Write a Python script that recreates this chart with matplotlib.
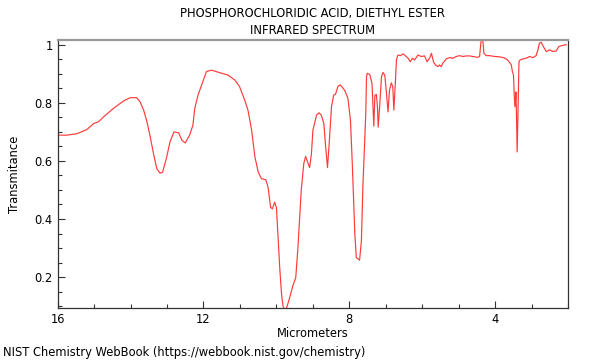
import matplotlib
matplotlib.use("Agg")
import matplotlib.pyplot as plt
from matplotlib.ticker import MultipleLocator, FuncFormatter

title_lines = ["PHOSPHOROCHLORIDIC ACID, DIETHYL ESTER", "INFRARED SPECTRUM"]
x_label = "Micrometers"
y_label = "Transmitance"
credit = "NIST Chemistry WebBook (https://webbook.nist.gov/chemistry)"

wavelength_um = [
    16.00, 15.75, 15.47, 15.20, 15.01, 14.88, 14.74, 14.47, 14.19, 14.01,
    13.83, 13.74, 13.64, 13.55, 13.46, 13.37, 13.28, 13.19, 13.12, 13.01,
    12.92, 12.81, 12.68, 12.59, 12.50, 12.38, 12.29, 12.24, 12.15, 12.05,
    11.92, 11.78, 11.55, 11.33, 11.14, 11.01, 10.87, 10.78, 10.68, 10.59,
    10.50, 10.41, 10.29, 10.23, 10.16, 10.11, 10.05, 10.00, 9.96, 9.91,
    9.86, 9.82, 9.78, 9.73, 9.65, 9.55, 9.47, 9.41, 9.32, 9.25,
    9.20, 9.13, 9.09, 9.04, 9.00, 8.90, 8.83, 8.77, 8.70, 8.65,
    8.60, 8.56, 8.49, 8.43, 8.38, 8.31, 8.25, 8.13, 8.04, 7.97,
    7.92, 7.85, 7.81, 7.72, 7.67, 7.63, 7.55, 7.53, 7.51, 7.44,
    7.38, 7.33, 7.30, 7.26, 7.23, 7.21, 7.17, 7.12, 7.08, 7.03,
    6.99, 6.94, 6.90, 6.85, 6.81, 6.78, 6.74, 6.71, 6.67, 6.60,
    6.53, 6.46, 6.39, 6.33, 6.27, 6.21, 6.12, 6.03, 5.94, 5.87,
    5.80, 5.75, 5.69, 5.64, 5.57, 5.53, 5.48, 5.44, 5.34, 5.25,
    5.16, 5.07, 4.98, 4.89, 4.79, 4.70, 4.61, 4.48, 4.43, 4.40,
    4.38, 4.34, 4.31, 4.25, 4.16, 4.02, 3.88, 3.75, 3.66, 3.56,
    3.53, 3.50, 3.48, 3.46, 3.44, 3.435, 3.42, 3.40, 3.38, 3.35,
    3.32, 3.24, 3.15, 3.06, 2.97, 2.88, 2.83, 2.79, 2.74, 2.68,
    2.60, 2.51, 2.42, 2.33, 2.26, 2.19, 2.10, 2.05,
]

transmittance = [
    0.689, 0.689, 0.694, 0.708, 0.729, 0.735, 0.752, 0.781, 0.807, 0.818,
    0.818, 0.804, 0.775, 0.735, 0.683, 0.625, 0.573, 0.558, 0.562, 0.613,
    0.665, 0.700, 0.697, 0.671, 0.662, 0.689, 0.723, 0.781, 0.827, 0.862,
    0.908, 0.913, 0.904, 0.896, 0.879, 0.856, 0.810, 0.775, 0.706, 0.614,
    0.562, 0.539, 0.535, 0.510, 0.440, 0.435, 0.458, 0.440, 0.348, 0.233,
    0.141, 0.100, 0.088, 0.090, 0.123, 0.170, 0.198, 0.302, 0.498, 0.591,
    0.616, 0.591, 0.577, 0.625, 0.706, 0.758, 0.766, 0.758, 0.729, 0.648,
    0.577, 0.648, 0.787, 0.827, 0.830, 0.858, 0.862, 0.844, 0.816, 0.740,
    0.591, 0.348, 0.267, 0.258, 0.325, 0.510, 0.764, 0.890, 0.902, 0.898,
    0.867, 0.720, 0.827, 0.829, 0.787, 0.717, 0.787, 0.890, 0.905, 0.896,
    0.844, 0.769, 0.844, 0.869, 0.856, 0.775, 0.867, 0.948, 0.965, 0.963,
    0.969, 0.962, 0.954, 0.942, 0.954, 0.948, 0.965, 0.960, 0.962, 0.942,
    0.954, 0.971, 0.940, 0.931, 0.925, 0.931, 0.925, 0.937, 0.952, 0.956,
    0.954, 0.960, 0.963, 0.960, 0.962, 0.962, 0.960, 0.957, 0.960, 1.000,
    1.020, 1.014, 0.971, 0.963, 0.963, 0.960, 0.959, 0.955, 0.948, 0.931,
    0.908, 0.896, 0.827, 0.787, 0.816, 0.838, 0.769, 0.631, 0.746, 0.942,
    0.948, 0.952, 0.954, 0.960, 0.956, 0.963, 0.983, 1.006, 1.009, 0.994,
    0.977, 0.983, 0.977, 0.979, 0.994, 0.997, 1.000, 1.000,
]

x_limits = (16, 2)
y_limits = (0.094, 1.017)
x_major_ticks = [16, 12, 8, 4]
y_major_ticks = [0.2, 0.4, 0.6, 0.8, 1.0]

fs = 8.3

fig = plt.figure(figsize=(6, 3.6), dpi=100)
ax = fig.add_axes([0.096, 0.145, 0.851, 0.744])

ax.plot(wavelength_um, transmittance, color="#ff3a3a", lw=0.85)
ax.set_xlim(*x_limits)
ax.set_ylim(*y_limits)

ax.set_xticks(x_major_ticks)
ax.set_yticks(y_major_ticks)
ax.xaxis.set_minor_locator(MultipleLocator(1))
ax.yaxis.set_minor_locator(MultipleLocator(0.05))
ax.yaxis.set_major_formatter(FuncFormatter(lambda v, p: f"{v:g}"))
ax.xaxis.set_major_formatter(FuncFormatter(lambda v, p: f"{v:g}"))

ax.tick_params(which="both", direction="in", labelsize=fs, colors="#333333",
               labelcolor="black", top=False, right=False)
ax.tick_params(which="major", length=5, width=0.8)
ax.tick_params(which="minor", length=3, width=0.8)

for side in ["left", "bottom", "right"]:
    ax.spines[side].set_color("#333333")
    ax.spines[side].set_linewidth(0.9)
ax.spines["top"].set_color("#999999")
ax.spines["top"].set_linewidth(1.6)

ax.set_xlabel(x_label, fontsize=fs, labelpad=1)
ax.set_ylabel(y_label, fontsize=fs, labelpad=10)

fig.text(0.52, 0.963, title_lines[0], ha="center", va="center", fontsize=fs)
fig.text(0.52, 0.916, title_lines[1], ha="center", va="center", fontsize=fs)
fig.text(0.005, 0.022, credit, ha="left", va="center", fontsize=fs)

fig.savefig("out.png", dpi=100)
